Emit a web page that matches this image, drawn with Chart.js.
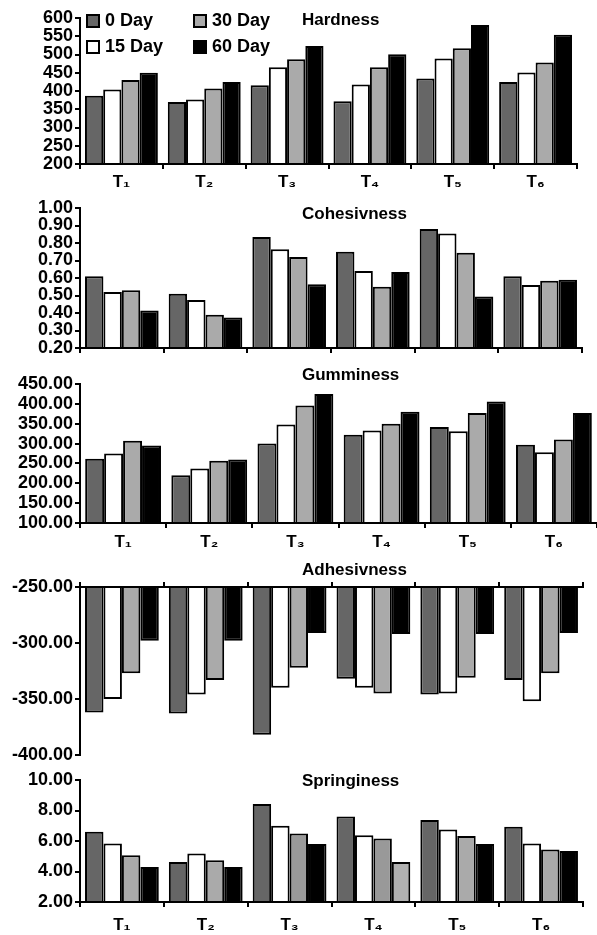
<!DOCTYPE html>
<html>
<head>
<meta charset="utf-8">
<script src="https://cdn.jsdelivr.net/npm/chart.js@4"></script>
<style>
  body { margin: 0; background: #fff; width: 597px; height: 935px; position: relative; overflow: hidden;
         font-family: "Liberation Sans", Arial, sans-serif; }
  canvas { position: absolute; left: 0; }
  .ttl { position: absolute; left: 302px; font-weight: bold; font-size: 17px; line-height: 17px; color: #000; }
  .leg { position: absolute; font-weight: bold; font-size: 18px; line-height: 18px; color: #000; white-space: nowrap; }
  .leg i { position: absolute; left: -19px; top: 3px; width: 10px; height: 10px; border: 2px solid #000; }
</style>
</head>
<body>
<canvas id="c1" width="597" height="195" style="top:0px"></canvas>
<canvas id="c2" width="597" height="168" style="top:195px"></canvas>
<canvas id="c3" width="597" height="200" style="top:355px"></canvas>
<canvas id="c4" width="597" height="220" style="top:550px"></canvas>
<canvas id="c5" width="597" height="175" style="top:760px"></canvas>

<div class="ttl" style="top:11px">Hardness</div>
<div class="ttl" style="top:205px">Cohesivness</div>
<div class="ttl" style="top:366px">Gumminess</div>
<div class="ttl" style="top:561px">Adhesivness</div>
<div class="ttl" style="top:772px">Springiness</div>

<div class="leg" style="left:105px;top:11px"><i style="background:#666"></i>0 Day</div>
<div class="leg" style="left:105px;top:37px"><i style="background:#fff"></i>15 Day</div>
<div class="leg" style="left:212px;top:11px"><i style="background:#aaa"></i>30 Day</div>
<div class="leg" style="left:212px;top:37px"><i style="background:#000"></i>60 Day</div>

<script>
// treatments and storage days
const groups = ['T₁', 'T₂', 'T₃', 'T₄', 'T₅', 'T₆']
const days = ['0 Day', '15 Day', '30 Day', '60 Day']

// one row per storage day: 0, 15, 30, 60
const hardness = [
  [387, 370, 416, 372, 434, 425],
  [404, 377, 465, 418, 489, 451],
  [430, 407, 487, 465, 517, 478],
  [450, 425, 523, 501, 581, 554],
]
const cohesiveness = [
  [0.61, 0.51, 0.835, 0.75, 0.88, 0.61],
  [0.52, 0.475, 0.765, 0.64, 0.855, 0.56],
  [0.53, 0.39, 0.72, 0.55, 0.745, 0.585],
  [0.415, 0.375, 0.565, 0.635, 0.495, 0.59],
]
const gumminess = [
  [262, 220, 300, 322, 342, 297],
  [275, 237, 348, 333, 331, 278],
  [307, 257, 396, 350, 377, 310],
  [295, 260, 425, 380, 406, 377],
]
const adhesiveness = [
  [-362, -363, -382, -332, -346, -333],
  [-350, -346, -340, -340, -345, -352],
  [-327, -333, -322, -345, -331, -327],
  [-298, -298, -291, -292, -292, -291],
]
const springiness = [
  [6.6, 4.63, 8.42, 7.6, 7.37, 6.93],
  [5.84, 5.18, 7.0, 6.38, 6.76, 5.84],
  [5.07, 4.74, 6.5, 6.16, 6.32, 5.44],
  [4.3, 4.3, 5.8, 4.63, 5.8, 5.35],
]

// axis ranges: min, max, step
const hardRange = [200, 600, 50]
const cohRange = [0.2, 1.0, 0.1]
const gumRange = [100, 450, 50]
const adhRange = [-400, -250, 50]
const sprRange = [2, 10, 2]

const fills = ['#666666', '#ffffff', '#aaaaaa', '#000000']
const font = 'Liberation Sans, Arial, sans-serif'

function makeChart(id, values, range, dec, o) {
  const base = range[1] < 0 ? range[1] : range[0]
  const datasets = values.map((row, i) => ({
    label: days[i],
    data: row,
    backgroundColor: (o.fills && o.fills[i]) || fills[i],
    borderColor: '#000',
    borderWidth: 2,
    base: base,
    categoryPercentage: 0.88,
    barPercentage: 1.0,
  }))
  return new Chart(document.getElementById(id), {
    type: 'bar',
    data: { labels: groups, datasets: datasets },
    options: {
      responsive: false,
      animation: false,
      layout: { padding: o.pad },
      plugins: { legend: { display: false }, tooltip: { enabled: false } },
      scales: {
        x: {
          position: o.top ? 'top' : 'bottom',
          grid: { drawOnChartArea: false, color: '#000', lineWidth: 2, tickLength: 5 },
          border: { color: '#000', width: 2 },
          ticks: {
            display: !!o.labels,
            color: '#000',
            padding: o.lp || 3,
            font: { family: font, size: 17, weight: 'bold' },
            maxRotation: 0,
          },
          afterFit: (s) => { s.height = o.xh },
        },
        y: {
          min: range[0],
          max: range[1],
          grid: { drawOnChartArea: false, color: '#000', lineWidth: 2, tickLength: 5 },
          border: { color: '#000', width: 2 },
          ticks: {
            stepSize: range[2],
            autoSkip: false,
            color: '#000',
            padding: 2,
            font: { family: font, size: 18, weight: 'bold' },
            callback: (v) => Number(v).toFixed(dec),
          },
          afterFit: (s) => { s.width = 80 },
        },
      },
    },
  })
}

makeChart('c1', hardness, hardRange, 0, { pad: { top: 18, right: 20, bottom: 0, left: 0 }, xh: 31, labels: true })
makeChart('c2', cohesiveness, cohRange, 2, { pad: { top: 13, right: 15, bottom: 0, left: 0 }, xh: 15 })
makeChart('c3', gumminess, gumRange, 2, { pad: { top: 29, right: 0, bottom: 0, left: 0 }, xh: 32, labels: true, lp: 4 })
makeChart('c4', adhesiveness, adhRange, 2, { pad: { top: 31, right: 14, bottom: 15, left: 0 }, xh: 6, top: true })
makeChart('c5', springiness, sprRange, 2, {
  pad: { top: 20, right: 14, bottom: 0, left: 0 }, xh: 33, labels: true, lp: 8,
  fills: [null, null,
    ['#aaaaaa', '#aaaaaa', '#999999', '#999999', '#aaaaaa', '#aaaaaa'],
    ['#000000', '#000000', '#000000', '#b0b0b0', '#000000', '#000000']],
})
</script>
</body>
</html>
